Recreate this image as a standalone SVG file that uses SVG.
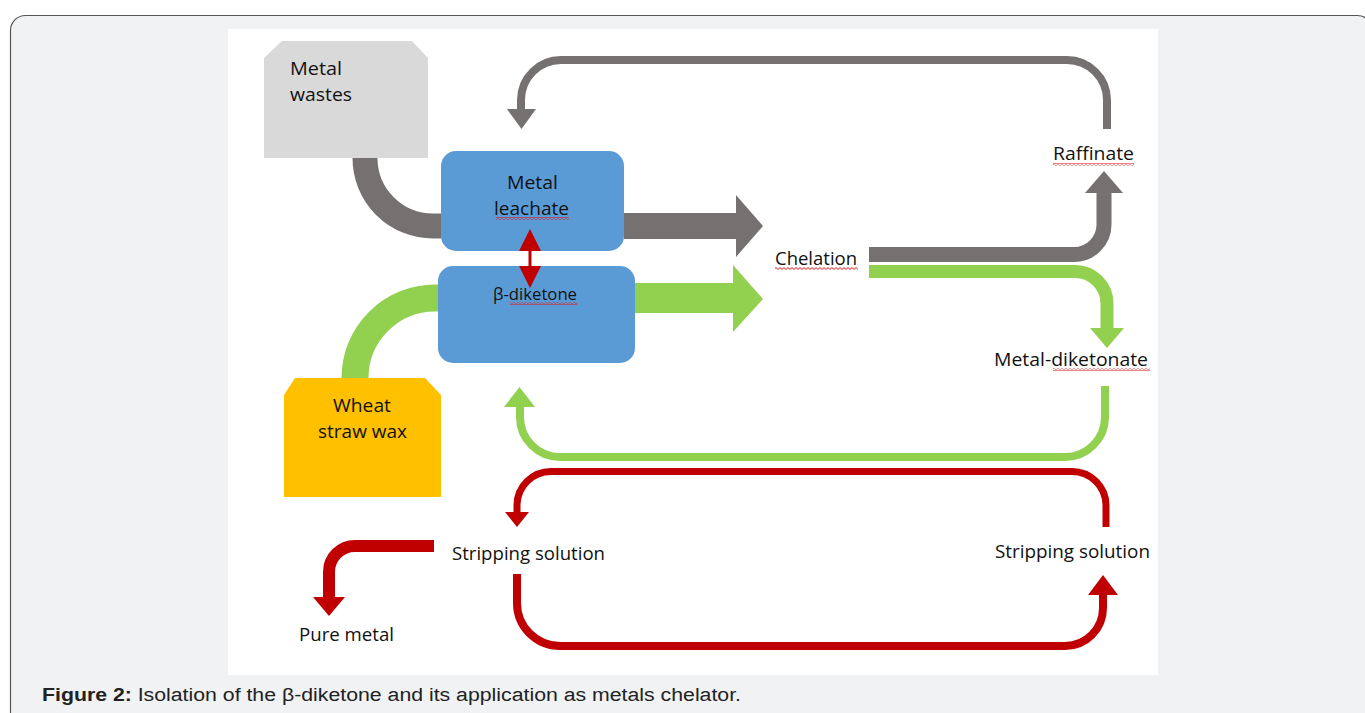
<svg xmlns="http://www.w3.org/2000/svg" width="1365" height="713" viewBox="0 0 1365 713">
<defs>
<style>
.lbl{font-family:"Open Sans","Liberation Sans",sans-serif;font-size:18.5px;fill:#111;}
.band{fill:none;stroke-linecap:butt;stroke-linejoin:round;}
.gray{stroke:#767171;}
.green{stroke:#92d050;}
.red{stroke:#c00000;}
.box{fill:#5b9bd5;}
.sq{fill:url(#squig);}
</style>
<pattern id="squig" patternUnits="userSpaceOnUse" width="4" height="3">
<path d="M0,0.6 L2,2.4 L4,0.6" fill="none" stroke="#e01818" stroke-width="1"/>
</pattern>
</defs>
<rect x="10.5" y="15.5" width="1362" height="730" rx="15" fill="#f1f2f4" stroke="#555" stroke-width="1.2"/>
<rect x="228" y="29" width="930" height="646" fill="#ffffff"/>

<g id="metal-wastes">
<polygon points="282,41 412,41 428,58 428,158 264,158 264,58" fill="#d9d9d9"/>
<text class="lbl" x="290" y="75" textLength="52" lengthAdjust="spacingAndGlyphs">Metal</text>
<text class="lbl" x="290" y="101" textLength="62" lengthAdjust="spacingAndGlyphs">wastes</text>
</g>
<g id="metal-leachate">
<rect class="box" x="441" y="151" width="183" height="100" rx="15"/>
<text class="lbl" x="507" y="189" textLength="51" lengthAdjust="spacingAndGlyphs">Metal</text>
<text class="lbl" x="494" y="215" textLength="75" lengthAdjust="spacingAndGlyphs">leachate</text>
<rect class="sq" x="496" y="217" width="73" height="3"/>
</g>
<g id="beta-diketone">
<rect class="box" x="438" y="266" width="197" height="97" rx="15"/>
<text class="lbl" x="493" y="300" style="font-size:16px" textLength="84" lengthAdjust="spacingAndGlyphs">β-diketone</text>
<rect class="sq" x="510" y="302" width="67" height="3"/>
</g>
<g id="wheat-straw-wax">
<polygon points="295,378 425,378 441,395 441,497 284,497 284,395" fill="#ffc000"/>
<text class="lbl" x="333" y="412" textLength="58" lengthAdjust="spacingAndGlyphs">Wheat</text>
<text class="lbl" x="318" y="438" textLength="89" lengthAdjust="spacingAndGlyphs">straw wax</text>
</g>
<g id="chelation">
<text class="lbl" x="775" y="265" textLength="82" lengthAdjust="spacingAndGlyphs">Chelation</text>
<rect class="sq" x="775" y="267" width="83" height="3"/>
</g>
<g id="raffinate">
<text class="lbl" x="1053" y="160" textLength="81" lengthAdjust="spacingAndGlyphs">Raffinate</text>
<rect class="sq" x="1053" y="163" width="81" height="3"/>
</g>
<g id="metal-diketonate">
<text class="lbl" x="994" y="366" textLength="154" lengthAdjust="spacingAndGlyphs">Metal-diketonate</text>
<rect class="sq" x="1053" y="368" width="97" height="3"/>
</g>
<g id="stripping-left">
<text class="lbl" x="452" y="560" textLength="153" lengthAdjust="spacingAndGlyphs">Stripping solution</text>
</g>
<g id="stripping-right">
<text class="lbl" x="995" y="558" textLength="155" lengthAdjust="spacingAndGlyphs">Stripping solution</text>
</g>
<g id="pure-metal">
<text class="lbl" x="299" y="641" textLength="95" lengthAdjust="spacingAndGlyphs">Pure metal</text>
</g>

<g id="connectors">
<path class="band gray" d="M365,158 A68,68 0 0 0 433,226 H441" stroke-width="25"/>
<path class="band green" d="M355,378 A80,80 0 0 1 435,298 H438" stroke-width="27"/>
<polygon points="624,213 736,213 736,195 763,226 736,257 736,239 624,239" fill="#767171"/>
<polygon points="635,283 733,283 733,265 763,299 733,332 733,313 635,313" fill="#92d050"/>
<line x1="530" y1="250" x2="530" y2="267" stroke="#c00000" stroke-width="3"/>
<polygon points="519,251 541,251 530,229" fill="#c00000"/>
<polygon points="519,266 541,266 530,288" fill="#c00000"/>
<path class="band gray" d="M869,254.5 H1074 A30,30 0 0 0 1104,224.5 V193" stroke-width="15"/>
<polygon points="1085,193 1123,193 1104,171" fill="#767171"/>
<path class="band green" d="M869,271.5 H1075 A32,32 0 0 1 1107,303.5 V328" stroke-width="13"/>
<polygon points="1090,328 1124,328 1107,348" fill="#92d050"/>
<path class="band gray" d="M1107,129 V100 A40,40 0 0 0 1067,60 H561 A40,40 0 0 0 521,100 V109" stroke-width="8"/>
<polygon points="507,109 536,109 521.5,129" fill="#767171"/>
<path class="band green" d="M1105,386 V417 A40,40 0 0 1 1065,457 H560 A40,40 0 0 1 520,417 V407" stroke-width="8"/>
<polygon points="504,407 535,407 519.5,387" fill="#92d050"/>
<path class="band red" d="M1106,527 V505 A34,34 0 0 0 1072,471.5 H551 A34,34 0 0 0 517,505 V512" stroke-width="7"/>
<polygon points="505,512 529,512 517,527" fill="#c00000"/>
<path class="band red" d="M517,574 V603 A43,43 0 0 0 560,646 H1065 A38,38 0 0 0 1103,608 V595" stroke-width="8"/>
<polygon points="1088,595 1118,595 1103,575" fill="#c00000"/>
<path class="band red" d="M434,546 H355 A26,26 0 0 0 329,572 V597" stroke-width="12"/>
<polygon points="313,597 345,597 329,616" fill="#c00000"/>
</g>

<text x="42" y="701" font-family="'Liberation Sans',Arial,sans-serif" font-size="18" fill="#222" textLength="699" lengthAdjust="spacingAndGlyphs"><tspan font-weight="bold">Figure 2:</tspan> Isolation of the β-diketone and its application as metals chelator.</text>
</svg>
